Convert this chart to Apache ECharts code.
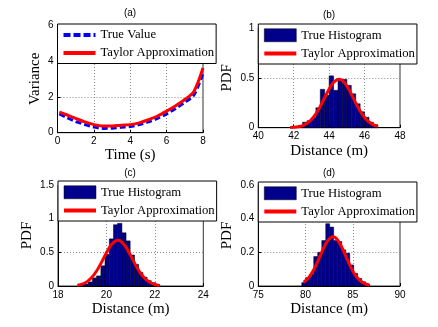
<!DOCTYPE html>
<html>
<head>
<meta charset="utf-8">
<script src="https://cdn.jsdelivr.net/npm/echarts@6.0.0/dist/echarts.min.js"></script>
<style>
  html, body { margin: 0; padding: 0; background: #fff; }
  #chart { width: 438px; height: 327px; }
</style>
</head>
<body>
<div id="chart"></div>
<script>
// (a) variance vs time
const timeA = [0.1, 0.5, 1, 1.5, 2, 2.5, 3, 3.5, 4, 4.5, 5, 5.5, 6, 6.5, 7, 7.5, 8];
const trueVarA = [1.05, 0.85, 0.62, 0.46, 0.32, 0.24, 0.25, 0.3, 0.34, 0.45, 0.6, 0.8, 1.05, 1.35, 1.7, 2.1, 3.3];
const taylorVarA = [1.15, 1.0, 0.8, 0.6, 0.45, 0.37, 0.37, 0.42, 0.45, 0.55, 0.72, 0.93, 1.2, 1.5, 1.85, 2.3, 3.6];

// (b) distance histogram around 44.5 m
const edgesB = [42.0, 42.25, 42.5, 42.75, 43.0, 43.25, 43.5, 43.75, 44.0, 44.25, 44.5,
  44.75, 45.0, 45.25, 45.5, 45.75, 46.0, 46.25, 46.5, 46.75];
const histB = [0.01, 0.02, 0.055, 0.07, 0.1, 0.2, 0.385, 0.325, 0.52, 0.375, 0.485,
  0.485, 0.425, 0.34, 0.24, 0.16, 0.105, 0.055, 0.03];
const distB = [41.8, 42.0, 42.25, 42.5, 42.75, 43.0, 43.25, 43.5, 43.75, 44.0, 44.25, 44.55,
  44.75, 45.0, 45.25, 45.5, 45.75, 46.0, 46.25, 46.5, 46.75];
const taylorB = [0.002, 0.004, 0.01, 0.021, 0.044, 0.082, 0.139, 0.214, 0.303, 0.389, 0.455, 0.487,
  0.473, 0.419, 0.338, 0.249, 0.167, 0.102, 0.057, 0.029, 0.013];

// (c) distance histogram around 20.5 m
const edgesC = [18.9, 19.07, 19.25, 19.42, 19.59, 19.77, 19.94, 20.12, 20.29, 20.46,
  20.64, 20.81, 20.98, 21.16, 21.33, 21.51, 21.68, 21.85, 22.03, 22.2];
const histC = [0.01, 0.03, 0.06, 0.12, 0.15, 0.3, 0.47, 0.7, 0.91, 0.93,
  0.79, 0.67, 0.46, 0.32, 0.2, 0.13, 0.08, 0.05, 0.02];
const distC = [18.8, 19.0, 19.2, 19.4, 19.6, 19.8, 20.0, 20.2, 20.47, 20.6,
  20.8, 21.0, 21.2, 21.4, 21.6, 21.8, 22.0, 22.2];
const taylorC = [0.012, 0.029, 0.065, 0.129, 0.227, 0.354, 0.493, 0.612, 0.68, 0.664,
  0.581, 0.452, 0.314, 0.194, 0.107, 0.052, 0.023, 0.009];

// (d) distance histogram around 83 m
const edgesD = [79.6, 80.02, 80.45, 80.87, 81.29, 81.72, 82.14, 82.56, 82.98, 83.41,
  83.83, 84.25, 84.68, 85.1, 85.52, 85.95, 86.37, 86.79];
const histD = [0.02, 0.05, 0.07, 0.175, 0.2, 0.27, 0.37, 0.35, 0.27, 0.265,
  0.215, 0.195, 0.125, 0.075, 0.045, 0.025, 0.01];
const distD = [79.8, 80.25, 80.75, 81.25, 81.75, 82.25, 82.9, 83.25, 83.75, 84.25,
  84.75, 85.25, 85.75, 86.25, 86.75];
const taylorD = [0.022, 0.044, 0.085, 0.141, 0.205, 0.261, 0.292, 0.283, 0.241, 0.179,
  0.117, 0.066, 0.033, 0.014, 0.006];

const SERIF = "'Liberation Serif', 'Times New Roman', serif";
const SANS = "'Liberation Sans', Arial, sans-serif";
const NAVY = "#00008c";

const pairs = (xs, ys) => xs.map((x, i) => [x, ys[i]]);
const bins = (edges, h) => h.map((v, i) => [edges[i], edges[i + 1], v]);

function renderBin(params, api) {
  const p0 = api.coord([api.value(0), api.value(2)]);
  const p1 = api.coord([api.value(1), 0]);
  return {
    type: "rect",
    shape: { x: p0[0], y: p0[1], width: p1[0] - p0[0], height: p1[1] - p0[1] },
    style: api.style(),
  };
}

function axis(gridIndex, min, max, step, name, nameGap) {
  return {
    type: "value", gridIndex, min, max, interval: step,
    name, nameLocation: "middle", nameGap,
    nameTextStyle: { fontFamily: SERIF, fontSize: 15, color: "#000" },
    axisLine: { show: true, lineStyle: { color: "#000", width: 1 } },
    axisTick: { show: true, inside: true, length: 3, lineStyle: { color: "#000" } },
    axisLabel: { fontFamily: SANS, fontSize: 10, color: "#000", margin: 4 },
    splitLine: {
      show: true, showMinLine: false, showMaxLine: false,
      lineStyle: { color: "#8a8a8a", width: 1, type: [1, 2] },
    },
  };
}

function legend(left, top, first) {
  return {
    orient: "vertical", left, top,
    padding: [4.5, 2, 4, 4], itemGap: 5, itemWidth: 32, itemHeight: 13,
    backgroundColor: "#fff", borderColor: "#000", borderWidth: 1, borderRadius: 0,
    selectedMode: false,
    textStyle: { fontFamily: SERIF, fontSize: 12.7, color: "#000" },
    data: [first, { name: "Taylor Approximation", itemStyle: { opacity: 0 }, lineStyle: { width: 4 } }],
  };
}

const histItem = { name: "True Histogram", icon: "rect", itemStyle: { borderColor: "#000", borderWidth: 0.5 } };
const trueItem = { name: "True Value", itemStyle: { opacity: 0 }, lineStyle: { width: 4, type: [7, 3] } };

function redLine(xi, data) {
  return {
    name: "Taylor Approximation", type: "line", xAxisIndex: xi, yAxisIndex: xi,
    data, smooth: 0.3, symbol: "none", z: 3,
    lineStyle: { color: "#ff0000", width: 3 }, itemStyle: { color: "#ff0000" },
  };
}

function histSeries(xi, data) {
  return {
    name: "True Histogram", type: "custom", xAxisIndex: xi, yAxisIndex: xi,
    renderItem: renderBin, data, encode: { x: [0, 1], y: 2 },
    itemStyle: { color: NAVY, borderColor: "#000", borderWidth: 0.5 },
  };
}

const titleText = (x, y, t) => ({
  type: "text", x, y,
  style: { text: t, font: "10px " + SANS, fill: "#000", align: "center", verticalAlign: "middle" },
});

const chart = echarts.init(document.getElementById("chart"), null, { renderer: "canvas" });
chart.setOption({
  animation: false,
  backgroundColor: "#fff",
  grid: [
    { left: 57.5, top: 25, width: 145.5, height: 107.7, show: true, borderColor: "#333", borderWidth: 1 },
    { left: 258.3, top: 28, width: 141.7, height: 99.7, show: true, borderColor: "#333", borderWidth: 1 },
    { left: 58, top: 185, width: 145.3, height: 101, show: true, borderColor: "#333", borderWidth: 1 },
    { left: 258.3, top: 185, width: 141.7, height: 101, show: true, borderColor: "#333", borderWidth: 1 },
  ],
  xAxis: [
    axis(0, 0, 8, 2, "Time (s)", 15),
    axis(1, 40, 48, 2, "Distance (m)", 16),
    axis(2, 18, 24, 2, "Distance (m)", 16),
    axis(3, 75, 90, 5, "Distance (m)", 16),
  ],
  yAxis: [
    axis(0, 0, 6, 2, "Variance", 15),
    axis(1, 0, 1, 0.5, "PDF", 24),
    axis(2, 0, 1.5, 0.5, "PDF", 23),
    axis(3, 0, 0.6, 0.2, "PDF", 24),
  ],
  legend: [
    legend(57.5, 24, trueItem),
    legend(258.3, 24, histItem),
    legend(58, 181, histItem),
    legend(258.3, 182, histItem),
  ],
  graphic: [
    titleText(130, 13, "(a)"),
    titleText(329, 15, "(b)"),
    titleText(130, 173, "(c)"),
    titleText(329, 173, "(d)"),
  ],
  series: [
    {
      name: "True Value", type: "line", xAxisIndex: 0, yAxisIndex: 0,
      data: pairs(timeA, trueVarA), smooth: 0.3, symbol: "none", z: 2,
      lineStyle: { color: "#0000ff", width: 3, type: [6, 3] }, itemStyle: { color: "#0000ff" },
    },
    redLine(0, pairs(timeA, taylorVarA)),
    histSeries(1, bins(edgesB, histB)),
    redLine(1, pairs(distB, taylorB)),
    histSeries(2, bins(edgesC, histC)),
    redLine(2, pairs(distC, taylorC)),
    histSeries(3, bins(edgesD, histD)),
    redLine(3, pairs(distD, taylorD)),
  ],
});
</script>
</body>
</html>
